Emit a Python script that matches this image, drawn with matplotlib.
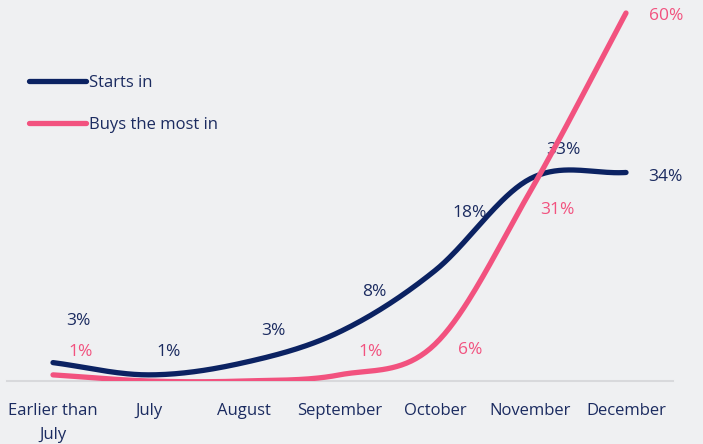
import numpy as np
import matplotlib.pyplot as plt

plt.rcParams['font.family'] = ['Open Sans', 'DejaVu Sans']

categories = ['Earlier than\nJuly', 'July', 'August', 'September', 'October', 'November', 'December']
starts_in = [3, 1, 3, 8, 18, 33, 34]
buys_most = [1, 0, 0, 1, 6, 31, 60]

NAVY = '#0b2262'
TEXT = '#1b2b60'
PINK = '#f2527f'
BG = '#eff0f2'

# label offsets in pixels (dx, dy up) relative to each point
navy_off = [(25, 42), (20, 23), (29, 32), (35, 40), (35, 58), (33, 29), (39, -5)]
pink_off = [(28, 23), (0, 0), (0, 0), (31, 23), (35, -6), (27, -19), (40, -3)]


def smooth(y, n=40):
    # cardinal (catmull-rom) spline just for drawing
    y = np.asarray(y, float)
    x = np.arange(len(y))
    m = np.zeros_like(y)
    m[1:-1] = (y[2:] - y[:-2]) / 2
    m[0] = y[1] - y[0]
    m[-1] = y[-1] - y[-2]
    xs, ys = [], []
    for i in range(len(y) - 1):
        t = np.linspace(0, 1, n, endpoint=False)
        h00 = 2 * t**3 - 3 * t**2 + 1
        h10 = t**3 - 2 * t**2 + t
        h01 = -2 * t**3 + 3 * t**2
        h11 = t**3 - t**2
        xs.append(x[i] + t)
        ys.append(h00 * y[i] + h10 * m[i] + h01 * y[i + 1] + h11 * m[i + 1])
    xs.append([x[-1]])
    ys.append([y[-1]])
    return np.concatenate(xs), np.concatenate(ys)


fig = plt.figure(figsize=(7.03, 4.44), dpi=100)
fig.patch.set_facecolor(BG)
ax = fig.add_axes([7 / 703, (444 - 381) / 444, 666 / 703, 380 / 444])
ax.set_facecolor(BG)

xs, ys = smooth(starts_in)
ax.plot(xs, ys, color=NAVY, lw=3.8, solid_capstyle='round', label='Starts in', zorder=3)
xs, ys = smooth(buys_most)
ax.plot(xs, ys, color=PINK, lw=3.8, solid_capstyle='round', label='Buys the most in', zorder=4)

for i, v in enumerate(starts_in):
    ax.annotate(f'{v}%', (i, v), xytext=navy_off[i], textcoords='offset pixels',
                ha='center', va='center', color=TEXT, fontsize=12.5)
for i, v in enumerate(buys_most):
    if v == 0:
        continue
    ax.annotate(f'{v}%', (i, v), xytext=pink_off[i], textcoords='offset pixels',
                ha='center', va='center', color=PINK, fontsize=12.5)

ax.set_xlim(-46 / 95.5, 620 / 95.5)
ax.set_ylim(0, 380 / 6.133)
ax.set_xticks(range(len(categories)))
ax.set_xticklabels(categories, color=TEXT, fontsize=12, linespacing=1.72)
ax.tick_params(axis='x', length=0, pad=15.5)
ax.set_yticks([])
for s in ['top', 'right', 'left']:
    ax.spines[s].set_visible(False)
ax.spines['bottom'].set_color('#d8d9dc')
ax.spines['bottom'].set_linewidth(1.5)

leg = ax.legend(loc='upper left', bbox_to_anchor=(29 / 703, 1 - 75 / 444),
                bbox_transform=fig.transFigure, frameon=False, fontsize=12,
                handlelength=3.4, handletextpad=0.2, labelspacing=1.55,
                borderpad=0, borderaxespad=0)
for t in leg.get_texts():
    t.set_color(TEXT)

fig.savefig('out.png', dpi=100, facecolor=BG)
